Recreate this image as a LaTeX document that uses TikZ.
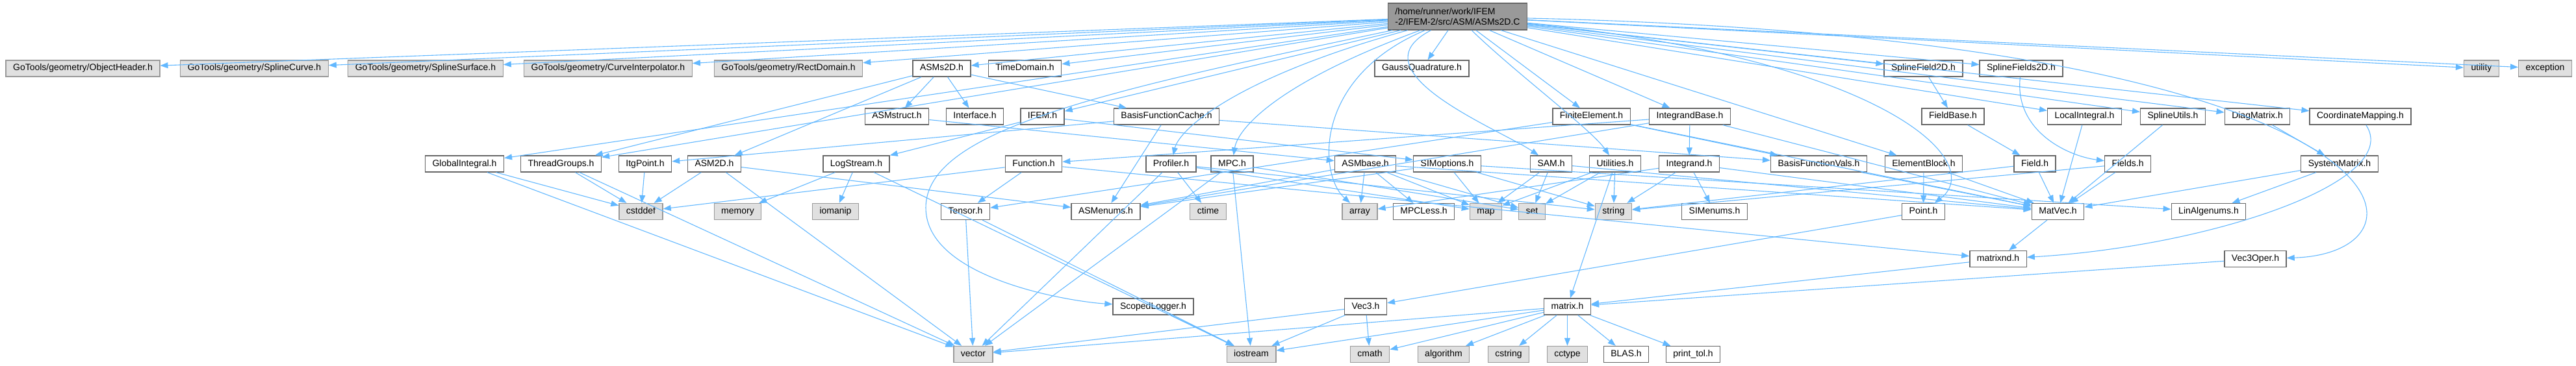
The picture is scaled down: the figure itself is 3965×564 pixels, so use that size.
\documentclass[tikz,border=0pt]{standalone}
\usepackage{fontspec}
\setmainfont{Liberation Sans}
\usetikzlibrary{arrows.meta}
\definecolor{edgeblue}{HTML}{63B8FF}
\definecolor{boxgray}{HTML}{666666}
\definecolor{sysgray}{HTML}{999999}
\definecolor{sysfill}{HTML}{E0E0E0}
\definecolor{maingray}{HTML}{999999}

\begin{document}
\begin{tikzpicture}[x=1pt,y=-1pt]
\tikzstyle{every node}=[rectangle, line width=1.3pt, inner xsep=11pt, inner ysep=0pt, minimum height=25pt, font=\fontsize{14}{16}\selectfont]
\tikzstyle{hdr}=[draw=boxgray, fill=white, text height=10pt, text depth=3pt]
\tikzstyle{sys}=[draw=sysgray, fill=sysfill, text height=10pt, text depth=3pt]
\tikzstyle{dep}=[draw=edgeblue, line width=1.1pt, -{Triangle[length=12pt,width=9pt]}]
\useasboundingbox (0,0) rectangle (3965,564);

% file being documented
\draw (2243.5,25.5) node (main) [draw=boxgray, fill=maingray, align=left, minimum height=41pt] {/home/runner/work/IFEM\\-2/IFEM-2/src/ASM/ASMs2D.C};

% row 1
\draw (127.5,105.5) node (objhdr) [sys] {GoTools/geometry/ObjectHeader.h};
\draw (391.5,105.5) node (splcurve) [sys] {GoTools/geometry/SplineCurve.h};
\draw (655,105.5) node (splsurf) [sys] {GoTools/geometry/SplineSurface.h};
\draw (936,105.5) node (curveint) [sys] {GoTools/geometry/CurveInterpolator.h};
\draw (1213.5,105.5) node (rectdom) [sys] {GoTools/geometry/RectDomain.h};
\draw (1449.5,105.5) node (asms2d) [hdr] {ASMs2D.h};
\draw (1577.5,105.5) node (timedom) [hdr] {TimeDomain.h};
\draw (2188.5,105.5) node (gaussq) [hdr] {GaussQuadrature.h};
\draw (2960.5,105.5) node (splfield) [hdr] {SplineField2D.h};
\draw (3111,105.5) node (splfields) [hdr] {SplineFields2D.h};
\draw (3819.5,105.5) node (utility) [sys] {utility};
\draw (3917.5,105.5) node (exception) [sys] {exception};

% row 2
\draw (1380.5,179.5) node (asmstruct) [hdr] {ASMstruct.h};
\draw (1500.5,179.5) node (interface) [hdr] {Interface.h};
\draw (1604.5,179.5) node (ifem) [hdr] {IFEM.h};
\draw (1795.5,179.5) node (bfcache) [hdr] {BasisFunctionCache.h};
\draw (2449.5,179.5) node (finiteel) [hdr] {FiniteElement.h};
\draw (2601,179.5) node (intbase) [hdr] {IntegrandBase.h};
\draw (3006,179.5) node (fieldbase) [hdr] {FieldBase.h};
\draw (3208.5,179.5) node (locint) [hdr] {LocalIntegral.h};
\draw (3344.5,179.5) node (splutils) [hdr] {SplineUtils.h};
\draw (3474.5,179.5) node (diagmat) [hdr] {DiagMatrix.h};
\draw (3633,179.5) node (coordmap) [hdr] {CoordinateMapping.h};

% row 3
\draw (715,252.5) node (globint) [hdr] {GlobalIntegral.h};
\draw (863.5,252.5) node (threadgr) [hdr] {ThreadGroups.h};
\draw (993,252.5) node (itgpt) [hdr] {ItgPoint.h};
\draw (1099.5,252.5) node (asm2d) [hdr] {ASM2D.h};
\draw (1318,252.5) node (logstream) [hdr] {LogStream.h};
\draw (1591,252.5) node (function) [hdr] {Function.h};
\draw (1802.5,252.5) node (profiler) [hdr] {Profiler.h};
\draw (1896.5,252.5) node (mpc) [hdr] {MPC.h};
\draw (2101.5,252.5) node (asmbase) [hdr] {ASMbase.h};
\draw (2227.5,252.5) node (simopt) [hdr] {SIMoptions.h};
\draw (2387.5,252.5) node (sam) [hdr] {SAM.h};
\draw (2486,252.5) node (utilities) [hdr] {Utilities.h};
\draw (2600,252.5) node (integrand) [hdr] {Integrand.h};
\draw (2799.5,252.5) node (bfvals) [hdr] {BasisFunctionVals.h};
\draw (2961,252.5) node (elemblock) [hdr] {ElementBlock.h};
\draw (3132,252.5) node (field) [hdr] {Field.h};
\draw (3275,252.5) node (fields) [hdr] {Fields.h};
\draw (3601,252.5) node (sysmat) [hdr] {SystemMatrix.h};

% row 4
\draw (986.5,326) node (cstddef) [sys] {cstddef};
\draw (1135.5,326) node (memory) [sys] {memory};
\draw (1286,326) node (iomanip) [sys] {iomanip};
\draw (1486,326) node (tensor) [hdr] {Tensor.h};
\draw (1702,326) node (asmenums) [hdr] {ASMenums.h};
\draw (1859.5,326) node (ctime) [sys] {ctime};
\draw (2093,326) node (array) [sys] {array};
\draw (2191.5,326) node (mpcless) [hdr] {MPCLess.h};
\draw (2287,326) node (map) [sys] {map};
\draw (2358,326) node (set) [sys] {set};
\draw (2483.5,326) node (string) [sys] {string};
\draw (2639,326) node (simenums) [hdr] {SIMenums.h};
\draw (2960.5,326) node (point) [hdr] {Point.h};
\draw (3167.5,326) node (matvec) [hdr] {MatVec.h};
\draw (3399.5,326) node (linalg) [hdr] {LinAlgenums.h};

% rows 5 and 6
\draw (3075.5,399) node (matrixnd) [hdr] {matrixnd.h};
\draw (3471.5,399) node (vec3oper) [hdr] {Vec3Oper.h};
\draw (1775,472.5) node (scoped) [hdr] {ScopedLogger.h};
\draw (2102,472.5) node (vec3) [hdr] {Vec3.h};
\draw (2412.5,472.5) node (matrix) [hdr] {matrix.h};

% row 7
\draw (1498,546) node (vector) [sys] {vector};
\draw (1926,546) node (iostream) [sys] {iostream};
\draw (2108.5,546) node (cmath) [sys] {cmath};
\draw (2222,546) node (algorithm) [sys] {algorithm};
\draw (2322,546) node (cstring) [sys] {cstring};
\draw (2412.5,546) node (cctype) [sys] {cctype};
\draw (2503,546) node (blas) [hdr] {BLAS.h};
\draw (2606,546) node (printtol) [hdr] {print\_tol.h};

% includes of ASMs2D.C
\draw[dep] (main) -- (objhdr); \draw[dep] (main) -- (splcurve); \draw[dep] (main) -- (splsurf);
\draw[dep] (main) -- (curveint); \draw[dep] (main) -- (rectdom); \draw[dep] (main) -- (asms2d);
\draw[dep] (main) -- (timedom); \draw[dep] (main) -- (gaussq); \draw[dep] (main) -- (splfield);
\draw[dep] (main) -- (splfields); \draw[dep] (main) -- (utility); \draw[dep] (main) -- (exception);
\draw[dep] (main) -- (ifem); \draw[dep] (main) -- (finiteel); \draw[dep] (main) -- (intbase);
\draw[dep] (main) -- (locint); \draw[dep] (main) -- (splutils); \draw[dep] (main) -- (diagmat);
\draw[dep] (main) -- (coordmap); \draw[dep] (main) -- (globint); \draw[dep] (main) -- (threadgr);
\draw[dep] (main) -- (elemblock);
\draw[dep] (main) .. controls (1900,120) and (1815,200) .. (profiler);
\draw[dep] (main) .. controls (1960,130) and (1905,200) .. (mpc);
\draw[dep] (main) .. controls (2080,110) and (2310,200) .. (sam);
\draw[dep] (main) .. controls (2330,110) and (2450,200) .. (utilities);
\draw[dep] (main) .. controls (2020,120) and (2030,270) .. (array);
\draw[dep] (main) .. controls (1700,140) and (1425,200) .. (1425,320) .. controls (1425,430) and (1650,465) .. (scoped);
\draw[dep] (main) .. controls (2900,90) and (3060,250) .. (point);
\draw[dep] (main) .. controls (3730,60) and (3770,390) .. (vec3oper);

% headers
\draw[dep] (asms2d) -- (asmstruct); \draw[dep] (asms2d) -- (interface); \draw[dep] (asms2d) -- (bfcache);
\draw[dep] (asms2d) -- (threadgr); \draw[dep] (asms2d) -- (asm2d);
\draw[dep] (asmstruct) -- (asmbase);
\draw[dep] (ifem) -- (logstream); \draw[dep] (ifem) -- (simopt);
\draw[dep] (bfcache) -- (asmenums); \draw[dep] (bfcache) -- (bfvals); \draw[dep] (bfcache) -- (itgpt);
\draw[dep] (finiteel) -- (matvec); \draw[dep] (finiteel) -- (tensor); \draw[dep] (finiteel) -- (bfvals);
\draw[dep] (intbase) -- (integrand); \draw[dep] (intbase) -- (asmenums); \draw[dep] (intbase) -- (function);
\draw[dep] (intbase) -- (matvec);
\draw[dep] (splfield) -- (fieldbase); \draw[dep] (fieldbase) -- (field);
\draw[dep] (splfields) .. controls (3100,200) and (3180,240) .. (fields);
\draw[dep] (locint) -- (matvec); \draw[dep] (splutils) -- (matvec); \draw[dep] (diagmat) -- (sysmat);
\draw[dep] (coordmap) .. controls (3700,280) and (3400,380) .. (matrixnd);
\draw[dep] (globint) -- (cstddef); \draw[dep] (globint) -- (vector);
\draw[dep] (threadgr) -- (cstddef); \draw[dep] (threadgr) -- (vector);
\draw[dep] (itgpt) -- (cstddef);
\draw[dep] (asm2d) -- (cstddef); \draw[dep] (asm2d) -- (vector); \draw[dep] (asm2d) -- (asmenums);
\draw[dep] (logstream) -- (memory); \draw[dep] (logstream) -- (iomanip); \draw[dep] (logstream) -- (iostream);
\draw[dep] (function) -- (cstddef); \draw[dep] (function) -- (tensor); \draw[dep] (function) -- (matrixnd);
\draw[dep] (profiler) -- (ctime); \draw[dep] (profiler) -- (map); \draw[dep] (profiler) -- (string);
\draw[dep] (profiler) -- (vector);
\draw[dep] (mpc) -- (set); \draw[dep] (mpc) -- (vector); \draw[dep] (mpc) -- (iostream);
\draw[dep] (asmbase) -- (asmenums); \draw[dep] (asmbase) -- (array); \draw[dep] (asmbase) -- (mpcless);
\draw[dep] (asmbase) -- (map); \draw[dep] (asmbase) -- (set); \draw[dep] (asmbase) -- (matvec);
\draw[dep] (simopt) -- (asmenums); \draw[dep] (simopt) -- (map); \draw[dep] (simopt) -- (string);
\draw[dep] (simopt) -- (linalg);
\draw[dep] (sam) -- (map); \draw[dep] (sam) -- (set); \draw[dep] (sam) -- (matvec);
\draw[dep] (utilities) -- (map); \draw[dep] (utilities) -- (set); \draw[dep] (utilities) -- (string);
\draw[dep] (utilities) -- (matrix);
\draw[dep] (integrand) -- (string); \draw[dep] (integrand) -- (simenums); \draw[dep] (integrand) -- (array);
\draw[dep] (integrand) -- (matvec);
\draw[dep] (bfvals) -- (matvec);
\draw[dep] (elemblock) -- (point); \draw[dep] (elemblock) -- (matvec);
\draw[dep] (field) -- (matvec); \draw[dep] (field) -- (string);
\draw[dep] (fields) -- (matvec); \draw[dep] (fields) -- (string);
\draw[dep] (sysmat) -- (matvec); \draw[dep] (sysmat) -- (linalg);
\draw[dep] (tensor) -- (vector); \draw[dep] (tensor) -- (iostream);
\draw[dep] (point) -- (vec3); \draw[dep] (matvec) -- (matrixnd);
\draw[dep] (matrixnd) -- (matrix); \draw[dep] (vec3oper) -- (matrix);
\draw[dep] (scoped) -- (iostream);
\draw[dep] (vec3) -- (cmath); \draw[dep] (vec3) -- (vector); \draw[dep] (vec3) -- (iostream);
\draw[dep] (matrix) -- (vector); \draw[dep] (matrix) -- (iostream); \draw[dep] (matrix) -- (cmath);
\draw[dep] (matrix) -- (algorithm); \draw[dep] (matrix) -- (cstring); \draw[dep] (matrix) -- (cctype);
\draw[dep] (matrix) -- (blas); \draw[dep] (matrix) -- (printtol);
\end{tikzpicture}
\end{document}
